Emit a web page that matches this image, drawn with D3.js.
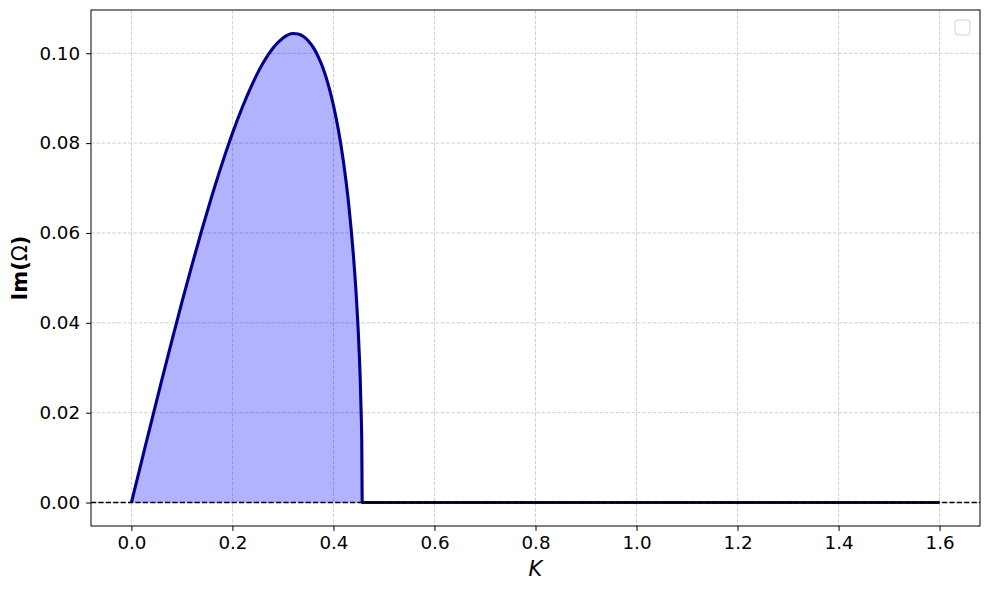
<!DOCTYPE html>
<html><head><meta charset="utf-8">
<script src="https://cdn.jsdelivr.net/npm/d3@7"></script>
<style>body{margin:0;background:#fff;} svg{display:block;font-family:"DejaVu Sans",sans-serif;}</style>
</head><body>
<svg id="c" width="990" height="590"></svg>
<script>
// Wavenumber K and growth rate Im(Ω)
const kValues = [0,0.02,0.04,0.06,0.08,0.10,0.12,0.14,0.16,0.18,0.20,0.22,0.24,0.26,0.28,0.30,0.31,0.32,0.33,0.34,0.35,0.36,0.37,0.38,0.39,0.40,0.41,0.42,0.43,0.44,0.445,0.45,0.453,0.455,0.456,0.457,0.5,0.8,1.2,1.6];
const growth  = [0,0.0091,0.0182,0.0272,0.0360,0.0446,0.0529,0.0609,0.0685,0.0756,0.0822,0.0881,0.0933,0.0977,0.1011,0.1034,0.1041,0.1044,0.1043,0.1038,0.1028,0.1013,0.0992,0.0965,0.0929,0.0884,0.0828,0.0757,0.0666,0.0543,0.0463,0.0359,0.0275,0.0194,0.0139,0,0,0,0,0];
const xTicks = [0.0,0.2,0.4,0.6,0.8,1.0,1.2,1.4,1.6];
const yTicks = [0.00,0.02,0.04,0.06,0.08,0.10];

const svg = d3.select("#c");
const L=91,R=980,T=10,B=526;
const x = d3.scaleLinear().domain([-0.08,1.68]).range([L,R]);
const y = d3.scaleLinear().domain([-0.00522,0.10963]).range([B,T]);
const data = kValues.map((k,i)=>({k, v:growth[i]}));

// grid
const g = svg.append("g");
g.selectAll(".gx").data(xTicks).enter().append("line")
  .attr("x1",d=>x(d)).attr("x2",d=>x(d)).attr("y1",T).attr("y2",B)
  .attr("stroke","#b0b0b0").attr("stroke-opacity",0.65).attr("stroke-width",0.9).attr("stroke-dasharray","3.7,1.6");
g.selectAll(".gy").data(yTicks).enter().append("line")
  .attr("y1",d=>y(d)).attr("y2",d=>y(d)).attr("x1",L).attr("x2",R)
  .attr("stroke","#b0b0b0").attr("stroke-opacity",0.65).attr("stroke-width",0.9).attr("stroke-dasharray","3.7,1.6");

// fill
svg.append("path").datum(data)
  .attr("d", d3.area().curve(d3.curveMonotoneX).x(d=>x(d.k)).y0(y(0)).y1(d=>y(d.v)))
  .attr("fill","#0000ff").attr("fill-opacity",0.3);
// line
svg.append("path").datum(data)
  .attr("d", d3.line().curve(d3.curveMonotoneX).x(d=>x(d.k)).y(d=>y(d.v)))
  .attr("fill","none").attr("stroke","#00008b").attr("stroke-width",3.1).attr("stroke-linejoin","round").attr("stroke-linecap","butt");
// zero line
svg.append("line").attr("x1",L).attr("x2",R).attr("y1",y(0)).attr("y2",y(0))
  .attr("stroke","#000").attr("stroke-width",1.4).attr("stroke-dasharray","5.2,2.2");

// axes
const xa = svg.append("g").attr("transform",`translate(0,${B})`)
  .call(d3.axisBottom(x).tickValues(xTicks).tickFormat(d3.format(".1f")).tickSize(4.9).tickPadding(5));
const ya = svg.append("g").attr("transform",`translate(${L},0)`)
  .call(d3.axisLeft(y).tickValues(yTicks).tickFormat(d3.format(".2f")).tickSize(4.9).tickPadding(6));
[xa,ya].forEach(a=>{a.select(".domain").remove(); a.selectAll("text").attr("font-size",18.3).attr("fill","#000").attr("font-family","DejaVu Sans");
  a.selectAll("line").attr("stroke","#000").attr("stroke-width",1);});
svg.append("rect").attr("x",L).attr("y",T).attr("width",R-L).attr("height",B-T)
  .attr("fill","none").attr("stroke","#000").attr("stroke-width",1);

// labels
svg.append("text").attr("x",(L+R)/2).attr("y",576).attr("text-anchor","middle")
  .attr("font-size",21).attr("font-style","italic").text("K");
const yl = svg.append("text").attr("transform",`translate(27,${(T+B)/2}) rotate(-90)`).attr("text-anchor","middle")
  .attr("font-size",21).attr("font-weight","bold");
yl.append("tspan").text("Im(");
yl.append("tspan").attr("font-weight","normal").text("Ω");
yl.append("tspan").text(")");

// empty legend box
svg.append("rect").attr("x",955).attr("y",20).attr("width",15).attr("height",15).attr("rx",3)
  .attr("fill","#fff").attr("fill-opacity",0.8).attr("stroke","#d0d0d0").attr("stroke-width",1);
</script>
</body></html>
